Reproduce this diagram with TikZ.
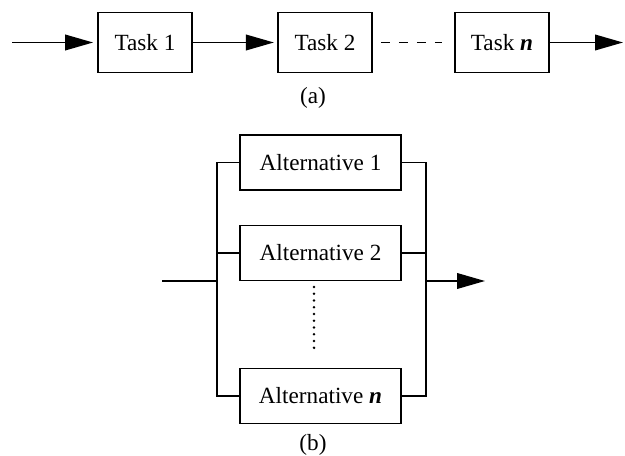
\documentclass[tikz,border=0pt]{standalone}
\usepackage{fontspec}
\setmainfont{Liberation Serif}
\usepackage{tikz}
\usetikzlibrary{arrows.meta}

\begin{document}
\begin{tikzpicture}[
    line width=1.3pt,
    task/.style={rectangle, draw, minimum width=2.35cm, minimum height=1.5cm,
                 align=center, font=\fontsize{16.5}{19}\selectfont},
    alt/.style={task, minimum width=4.025cm, minimum height=1.375cm},
    flow/.style={-{Triangle[length=7mm, width=3.9mm]}},
    lbl/.style={font=\fontsize{16.5}{19}\selectfont}
]
    \useasboundingbox (0,0) rectangle (15.625,11.375);

    % (a) tasks in sequence
    \node[task] (t1) at (3.625,10.3125) {Task 1};
    \node[task] (t2) at (8.125,10.3125) {Task 2};
    \node[task] (tn) at (12.55,10.3125) {Task \textbf{\textit{n}}};
    \coordinate (seqin) at (0.3,10.3125);
    \coordinate (seqout) at (15.575,10.3125);
    \draw[flow, shorten >=1mm] (seqin) -- (t1.west);
    \draw[flow, shorten >=0.8mm] (t1.east) -- (t2.west);
    \draw[dash pattern=on 2.25mm off 2.25mm, shorten <=2mm, shorten >=3mm] (t2.east) -- (tn.west);
    \draw[flow] (tn.east) -- (seqout);
    \node[lbl] (capa) at (7.825,8.925) {(a)};

    % (b) alternatives in parallel
    \node[alt] (alt1) at (8.0125,7.3125) {Alternative 1};
    \node[alt] (alt2) at (8.0125,5.05) {Alternative 2};
    \node[alt] (altn) at (8.0125,1.475) {Alternative \textbf{\textit{n}}};
    \coordinate (lb) at (5.425,4.35);
    \coordinate (rb) at (10.65,4.35);
    \coordinate (parin) at (4.05,4.35);
    \coordinate (parout) at (12.125,4.35);
    \draw (alt1.west) -- (alt1.west -| lb) -- (altn.west -| lb) -- (altn.west);
    \draw (alt2.west) -- (alt2.west -| lb);
    \draw (alt1.east) -- (alt1.east -| rb) -- (altn.east -| rb) -- (altn.east);
    \draw (alt2.east) -- (alt2.east -| rb);
    \draw (parin) -- (lb);
    \draw[flow] (rb) -- (parout);
    \coordinate (dtop) at (7.85,4.2);
    \coordinate (dbot) at (7.85,2.675);
    \draw[line width=2pt, line cap=round, dash pattern=on 0pt off 1.69mm] (dtop) -- (dbot);
    \node[lbl] (capb) at (7.825,0.25) {(b)};
\end{tikzpicture}
\end{document}
